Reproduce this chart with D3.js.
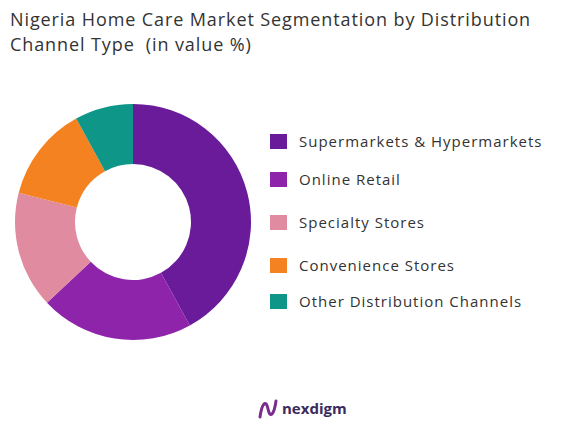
<!DOCTYPE html>
<html><head><meta charset="utf-8">
<script src="https://cdn.jsdelivr.net/npm/d3@7"></script>
<style>body{margin:0;background:#fff;} text{white-space:pre;}</style>
</head><body>
<svg id="chart" width="570" height="432"></svg>
<script>
const categories = ['Supermarkets & Hypermarkets', 'Online Retail', 'Specialty Stores', 'Convenience Stores', 'Other Distribution Channels'];
const values = [42, 21, 16, 13, 8];
const colors = ['#6a1b9a', '#8e24aa', '#e08ba0', '#f58220', '#0e9688'];
const legendY = [142, 180, 223, 266, 302];

const svg = d3.select('#chart');
const font = '"Open Sans", sans-serif';

svg.append('text').attr('x', 10).attr('y', 26).attr('font-family', font).attr('font-size', 18)
  .attr('letter-spacing', 0.9).attr('fill', '#333').text('Nigeria Home Care Market Segmentation by Distribution');
svg.append('text').attr('x', 10).attr('y', 51).attr('font-family', font).attr('font-size', 18)
  .attr('letter-spacing', 0.9).attr('fill', '#333').text('Channel Type  (in value %)');

const pie = d3.pie().sort(null).value(d => d);
const arc = d3.arc().innerRadius(58).outerRadius(118);
const g = svg.append('g').attr('transform', 'translate(133,222)');
g.selectAll('path').data(pie(values)).enter().append('path')
  .attr('d', arc).attr('fill', (d, i) => colors[i]);

const lg = svg.selectAll('.leg').data(categories).enter().append('g')
  .attr('transform', (d, i) => `translate(270,${legendY[i]})`);
lg.append('rect').attr('x', 0).attr('y', -8).attr('width', 17).attr('height', 15).attr('fill', (d, i) => colors[i]);
lg.append('text').attr('x', 29).attr('y', 5).attr('font-family', font).attr('font-size', 15)
  .attr('letter-spacing', 1).attr('fill', '#333').text(d => d);

const logo = svg.append('g').attr('transform', 'translate(258,397)');
logo.append('path').attr('d', 'M2,20 C4,6 8,2 10,12 C12,22 16,18 18,4')
  .attr('fill', 'none').attr('stroke', '#7b2d8e').attr('stroke-width', 3).attr('stroke-linecap', 'round');
logo.append('text').attr('x', 24).attr('y', 17).attr('font-family', font).attr('font-size', 15)
  .attr('font-weight', 'bold').attr('fill', '#3b2a5e').text('nexdigm');
</script>
</body></html>
